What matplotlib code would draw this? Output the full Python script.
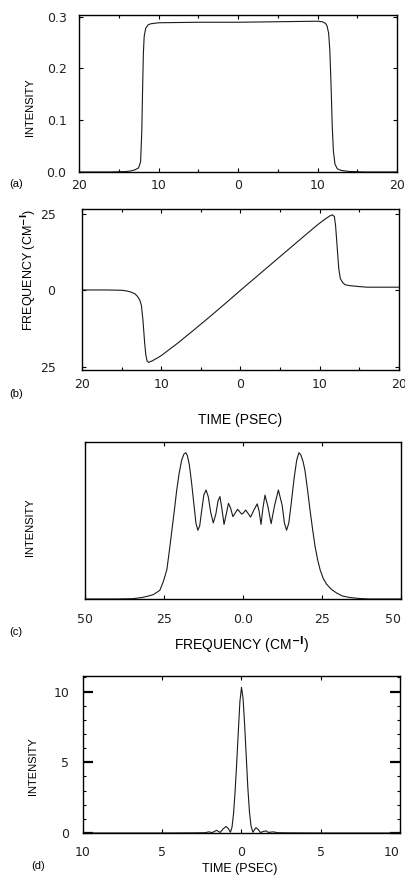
import matplotlib
matplotlib.use("Agg")
import matplotlib.pyplot as plt
from matplotlib.ticker import MultipleLocator

plt.rcParams['font.family'] = ['Liberation Sans', 'DejaVu Sans']

# ---------------- data ----------------
# (a) intensity vs time
time_a = [-20, -16, -14, -13.5, -13, -12.5, -12.25, -12.1, -12.0, -11.9, -11.8, -11.6,
          -11.3, -11, -10, -5, 0, 5, 10, 10.6, 11.0, 11.2, 11.4, 11.55, 11.7, 11.85,
          12.0, 12.2, 12.5, 13, 14, 16, 20]
intensity_a = [0, 0.0, 0.001, 0.002, 0.004, 0.008, 0.02, 0.08, 0.16, 0.23, 0.262, 0.278,
               0.284, 0.286, 0.288, 0.289, 0.289, 0.290, 0.291, 0.290, 0.287, 0.282, 0.268,
               0.235, 0.17, 0.09, 0.04, 0.015, 0.006, 0.003, 0.001, 0, 0]

# (b) instantaneous frequency vs time
time_b = [-20, -17, -15, -14.4, -13.8, -13.3, -13.0, -12.7, -12.5, -12.3, -12.1, -11.95,
          -11.8, -11.6, -11.2, -10.5, -10, -8, -6, -4, -2, 0, 2, 4, 6, 8,
          9.6, 10.5, 11.3, 11.6, 11.85, 12.0, 12.2, 12.4, 12.6, 12.9, 13.2, 13.8, 15, 16, 20]
freq_b = [0.1, 0.1, 0.0, -0.2, -0.6, -1.2, -2, -3.2, -5, -10, -17, -21,
          -23, -23.5, -23.1, -22.1, -21.3, -17.4, -13.2, -8.9, -4.5, 0.0, 4.4, 8.8, 13.2, 17.6,
          21.1, 22.9, 24.3, 24.6, 24, 21, 14, 7, 3.8, 2.5, 1.8, 1.5, 1.2, 1.0, 1.0]

# (c) spectrum
freq_c = [-50, -40, -35, -32, -30, -28.4, -27.3, -26.3, -25.2, -24.1, -23.3, -22.5, -21.7,
          -21, -20.2, -19.4, -18.7, -18.1, -17.6, -17, -16.3, -15.5, -14.9, -14.3, -13.7,
          -13.1, -12.4, -11.7, -11.0, -10.2, -9.4, -8.6, -7.9, -7.3, -6.7, -6.0, -5.3,
          -4.6, -3.9, -3.2, -2.4, -1.7, -1.0, -0.4, 0.2, 0.85, 1.6, 2.4, 3.5, 4.5, 5.1,
          5.7, 6.3, 6.96, 7.9, 8.9, 10.0, 11.2, 12.4, 13.1, 13.8, 14.5, 15.3, 16.2, 17.0,
          17.7, 18.3, 19.0, 19.6, 20.4, 21.2, 22.0, 22.8, 23.6, 24.4, 25.4, 26.5, 28,
          29.7, 31.5, 33.9, 37, 40, 50]
spec_c = [0, 0, 0.002, 0.01, 0.02, 0.03, 0.045, 0.06, 0.12, 0.2, 0.33, 0.47, 0.61,
          0.74, 0.86, 0.95, 0.99, 1.0, 0.98, 0.92, 0.8, 0.64, 0.52, 0.47, 0.5,
          0.6, 0.71, 0.745, 0.7, 0.59, 0.52, 0.58, 0.67, 0.70, 0.62, 0.51, 0.58,
          0.654, 0.62, 0.563, 0.59, 0.613, 0.595, 0.58, 0.59, 0.608, 0.585, 0.56, 0.61, 0.65, 0.6,
          0.51, 0.62, 0.71, 0.63, 0.515, 0.64, 0.745, 0.64, 0.52, 0.47, 0.52, 0.66, 0.83, 0.95,
          1.0, 0.985, 0.94, 0.88, 0.75, 0.61, 0.48, 0.36, 0.27, 0.2, 0.14, 0.1, 0.065,
          0.04, 0.02, 0.01, 0.003, 0, 0]

# (d) compressed pulse
time_d = [-10, -5, -3, -2.3, -2.07, -1.85, -1.57, -1.35, -1.15, -0.98, -0.82, -0.7,
          -0.6, -0.5, -0.4, -0.3, -0.2, -0.1, 0, 0.1, 0.2, 0.3, 0.4, 0.5, 0.6, 0.72,
          0.8, 0.91, 1.05, 1.2, 1.35, 1.54, 1.7, 2.0, 2.3, 3, 5, 10]
intensity_d = [0, 0, 0.01, 0.02, 0.08, 0.03, 0.19, 0.04, 0.3, 0.46, 0.3, 0.05,
               0.4, 1.4, 3.0, 5.0, 7.2, 9.3, 10.3, 9.5, 7.6, 5.4, 3.2, 1.5, 0.5, 0.05,
               0.2, 0.38, 0.25, 0.03, 0.1, 0.15, 0.04, 0.08, 0.02, 0.01, 0, 0]

# tick labels
time_ticks_ab = [-20, -10, 0, 10, 20]
time_labels_ab = ["20", "10", "0", "10", "20"]
int_ticks_a = [0.0, 0.1, 0.2, 0.3]
int_labels_a = ["0.0", "0.1", "0.2", "0.3"]
freq_ticks_b = [-25, 0, 25]
freq_labels_b = ["25", "0", "25"]
freq_ticks_c = [-50, -25, 0, 25, 50]
freq_labels_c = ["50", "25", "0.0", "25", "50"]
time_ticks_d = [-10, -5, 0, 5, 10]
time_labels_d = ["10", "5", "0", "5", "10"]
int_ticks_d = [0, 5, 10]
int_labels_d = ["0", "5", "10"]

# ---------------- figure ----------------
W, H = 406, 877
fig = plt.figure(figsize=(W / 100, H / 100), dpi=100)


def axes_px(left, right, top, bottom):
    return fig.add_axes([left / W, 1 - bottom / H, (right - left) / W, (bottom - top) / H])


LC = '#1a1a1a'
LW = 0.8
TFS = 9


def style(ax):
    for s in ax.spines.values():
        s.set_linewidth(1.0)
        s.set_color('black')
    ax.tick_params(which='both', direction='in', top=True, right=True,
                   labelsize=TFS, width=0.8, color='black', labelcolor='#222222')
    ax.tick_params(which='major', length=3)
    ax.tick_params(which='minor', length=2)
    for lab in ax.get_xticklabels() + ax.get_yticklabels():
        lab.set_fontfamily('DejaVu Sans')


# (a)
ax = axes_px(79, 397, 15, 172)
ax.plot(time_a, intensity_a, color=LC, lw=LW)
ax.set_xlim(-20, 20)
ax.set_ylim(0, 0.303)
ax.set_xticks(time_ticks_ab)
ax.set_xticklabels(time_labels_ab)
ax.xaxis.set_minor_locator(MultipleLocator(5))
ax.set_yticks(int_ticks_a)
ax.set_yticklabels(int_labels_a)
style(ax)
ax.tick_params(axis='x', pad=5)
ax.tick_params(axis='y', pad=9)

# (b)
ax = axes_px(82, 399, 209, 370)
ax.plot(time_b, freq_b, color=LC, lw=LW)
ax.set_xlim(-20, 20)
ax.set_ylim(-26, 26.5)
ax.set_xticks(time_ticks_ab)
ax.set_xticklabels(time_labels_ab)
ax.xaxis.set_minor_locator(MultipleLocator(5))
ax.set_yticks(freq_ticks_b)
ax.set_yticklabels(freq_labels_b)
style(ax)
ax.tick_params(axis='x', pad=6)
ax.tick_params(axis='y', pad=19)

# (c)
ax = axes_px(85, 401, 442, 599)
ax.plot(freq_c, spec_c, color=LC, lw=LW)
ax.set_xlim(-50, 50)
ax.set_ylim(0, 1.073)
ax.set_xticks(freq_ticks_c)
ax.set_xticklabels(freq_labels_c)
ax.set_yticks([])
style(ax)
ax.tick_params(axis='x', pad=10)
ax.get_xticklabels()[-1].set_horizontalalignment('right')

# (d)
ax = axes_px(83, 400, 676, 833)
ax.plot(time_d, intensity_d, color=LC, lw=LW)
ax.set_xlim(-10, 10)
ax.set_ylim(0, 11.1)
ax.set_xticks(time_ticks_d)
ax.set_xticklabels(time_labels_d)
ax.set_yticks(int_ticks_d)
ax.set_yticklabels(int_labels_d)
ax.yaxis.set_minor_locator(MultipleLocator(1))
style(ax)
ax.tick_params(axis='y', which='major', length=7, width=1.6)
ax.tick_params(axis='x', pad=9)
ax.tick_params(axis='y', pad=10)
ax.get_xticklabels()[-1].set_horizontalalignment('right')


def ftext(x, y, s, **kw):
    fig.text(x / W, 1 - y / H, s, ha='center', va='center', **kw)


ftext(30, 107, "INTENSITY", rotation=90, fontsize=8)
ftext(29, 270, "FREQUENCY (CM$^{\\mathbf{-I}}$)", rotation=90, fontsize=9)
ftext(30, 527, "INTENSITY", rotation=90, fontsize=8)
ftext(33, 766, "INTENSITY", rotation=90, fontsize=8)

ftext(240, 420, "TIME (PSEC)", fontsize=10)
ftext(242, 645, "FREQUENCY (CM$^{\\mathbf{-I}}$)", fontsize=10)
ftext(240, 869, "TIME (PSEC)", fontsize=9)

ftext(16, 184, "(a)", fontsize=8)
ftext(16, 394, "(b)", fontsize=8)
ftext(16, 632, "(c)", fontsize=8)
ftext(38, 866, "(d)", fontsize=8)

fig.savefig("out.png", dpi=100)
